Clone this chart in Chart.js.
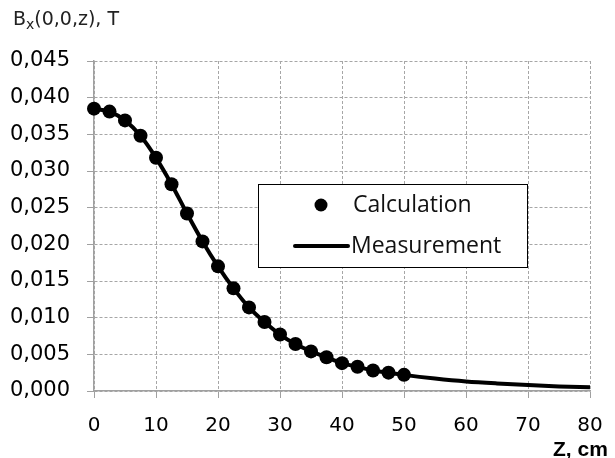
<!DOCTYPE html>
<html>
<head>
<meta charset="utf-8">
<script src="https://cdn.jsdelivr.net/npm/chart.js@4.4.0/dist/chart.umd.min.js"></script>
<style>
  html, body { margin: 0; padding: 0; background: #fff; overflow: hidden; }
  #wrap { width: 615px; height: 458px; position: relative; }
  canvas { display: block; }
</style>
</head>
<body>
<div id="wrap"><canvas id="chart" width="615" height="458"></canvas></div>
<script>
// ---------- Data ----------
const calcZ = [0, 2.5, 5, 7.5, 10, 12.5, 15, 17.5, 20, 22.5, 25, 27.5, 30, 32.5, 35, 37.5, 40, 42.5, 45, 47.5, 50];
const calcB = [0.0385, 0.0381, 0.0369, 0.0348, 0.0318, 0.0282, 0.0242, 0.0204, 0.0170, 0.0140, 0.0114, 0.0094, 0.0077, 0.0064, 0.0054, 0.0046, 0.0038, 0.0033, 0.0028, 0.0025, 0.0022];

const measZ = [0, 2.5, 5, 7.5, 10, 12.5, 15, 17.5, 20, 22.5, 25, 27.5, 30, 32.5, 35, 37.5, 40, 42.5, 45, 47.5, 50, 55, 60, 65, 70, 75, 80];
const measB = [0.0385, 0.0381, 0.0369, 0.0348, 0.0318, 0.0282, 0.0242, 0.0204, 0.0170, 0.0140, 0.0114, 0.0094, 0.0077, 0.0064, 0.0054, 0.0046, 0.0038, 0.0033, 0.0028, 0.0025, 0.0022, 0.0017, 0.0013, 0.00103, 0.00082, 0.00063, 0.0005];

const seriesNames = ['Calculation', 'Measurement'];
const yTitle = ['B', 'x', '(0,0,z), T'];   // main, subscript, rest
const xTitle = 'Z, cm';

// ---------- helpers ----------
const toPoints = (xs, ys) => xs.map((x, i) => ({ x: x, y: ys[i] }));
const GRID = '#a6a6a6';
const AXIS = '#a0a0a0';

// Titles + legend box drawn on top of the chart
const overlay = {
  id: 'overlay',
  afterDraw(chart) {
    const c = chart.ctx;
    c.save();
    // y title with subscript
    c.fillStyle = '#222';
    c.textBaseline = 'alphabetic';
    c.font = '19px "DejaVu Sans"';
    let x = 13;
    c.fillText(yTitle[0], x, 25);
    x += c.measureText(yTitle[0]).width;
    c.font = '14px "DejaVu Sans"';
    c.fillText(yTitle[1], x, 29);
    x += c.measureText(yTitle[1]).width;
    c.font = '19px "DejaVu Sans"';
    c.fillText(yTitle[2], x, 25);

    // x title
    c.fillStyle = '#000';
    c.font = 'bold 21px "Liberation Sans"';
    c.fillText(xTitle, 553, 456);

    // legend
    c.fillStyle = '#fff';
    c.fillRect(258, 184, 269, 83);
    c.strokeStyle = '#000';
    c.lineWidth = 1;
    c.strokeRect(258.5, 184.5, 269, 83);
    c.fillStyle = '#000';
    c.beginPath();
    c.arc(321, 205, 6.5, 0, Math.PI * 2);
    c.fill();
    c.lineWidth = 4;
    c.lineCap = 'round';
    c.beginPath();
    c.moveTo(295, 246);
    c.lineTo(348, 246);
    c.stroke();
    c.font = '23px "Open Sans"';
    c.textBaseline = 'middle';
    c.fillStyle = '#111';
    c.fillText(seriesNames[0], 353, 205);
    c.fillText(seriesNames[1], 351, 246);
    c.restore();
  }
};

const chart = new Chart(document.getElementById('chart'), {
  type: 'scatter',
  data: {
    datasets: [
      {
        label: seriesNames[0],
        data: toPoints(calcZ, calcB),
        showLine: false,
        pointRadius: 7,
        pointBackgroundColor: '#000',
        pointBorderColor: '#000',
        pointBorderWidth: 0,
        clip: false,
        order: 0
      },
      {
        label: seriesNames[1],
        data: toPoints(measZ, measB),
        showLine: true,
        borderColor: '#000',
        borderWidth: 4,
        pointRadius: 0,
        cubicInterpolationMode: 'monotone',
        clip: false,
        order: 1
      }
    ]
  },
  options: {
    responsive: false,
    animation: false,
    layout: { autoPadding: false, padding: { left: 0, top: 61, right: 25, bottom: 0 } },
    scales: {
      x: {
        type: 'linear',
        min: 0,
        max: 80,
        // fixed axis height; drop the label overhang padding so the plot ends at x=590
        afterFit: (s) => { s.height = 67; s.paddingLeft = 0; s.paddingRight = 0; },
        ticks: { stepSize: 10, color: '#000', font: { family: 'DejaVu Sans', size: 20 }, padding: 16, maxRotation: 0 },
        grid: { color: GRID, tickColor: AXIS, tickLength: 7, lineWidth: 1 },
        border: { color: AXIS, width: 1.5, dash: [3, 2] }
      },
      y: {
        min: 0,
        max: 0.045,
        afterFit: (s) => { s.width = 94; },
        ticks: {
          stepSize: 0.005,
          color: '#000',
          font: { family: 'DejaVu Sans', size: 21 },
          padding: 17,
          callback: (v) => v.toFixed(3).replace('.', ',')
        },
        grid: { color: GRID, tickColor: AXIS, tickLength: 7, lineWidth: 1 },
        border: { color: AXIS, width: 1.5, dash: [3, 2] }
      }
    },
    plugins: {
      legend: { display: false },
      tooltip: { enabled: false }
    }
  },
  plugins: [overlay]
});
</script>
</body>
</html>
